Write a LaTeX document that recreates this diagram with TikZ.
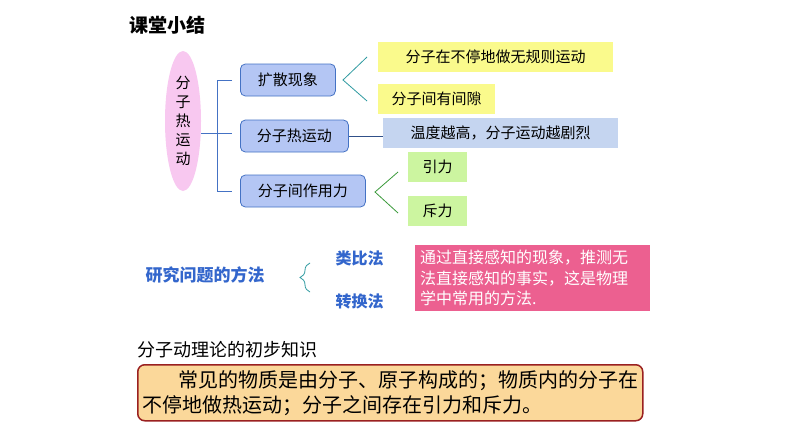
\documentclass[tikz,border=0pt]{standalone}
\usepackage{fontspec}
\setmainfont{Noto Sans CJK SC}
\usetikzlibrary{shapes.geometric,decorations.pathreplacing}
\definecolor{bbox}{HTML}{B4C6F4}
\definecolor{bline}{HTML}{4472C4}
\definecolor{ybox}{HTML}{FAFA8C}
\definecolor{gbox}{HTML}{CCF5A0}
\definecolor{lbox}{HTML}{C5D5F0}
\definecolor{teal}{HTML}{2E9AA0}
\definecolor{grn}{HTML}{3A9A3A}
\definecolor{pinkb}{HTML}{EC6090}
\definecolor{ell}{HTML}{F8C8F0}
\definecolor{blu}{HTML}{3366CC}
\definecolor{obox}{HTML}{FBD89A}
\definecolor{dred}{HTML}{9A2020}
\begin{document}
\begin{tikzpicture}[x=1pt,y=-1pt,
  cat/.style={draw=bline,fill=bbox,rounded corners=5pt,line width=0.8pt,minimum height=32pt,font=\fontsize{15}{17}\selectfont,inner sep=0pt},
  leaf/.style={minimum height=30pt,font=\fontsize{15}{17}\selectfont,inner sep=0pt,anchor=west}]
\useasboundingbox[fill=white] (0,0) rectangle (794,447);
\node[font=\fontsize{19}{21}\selectfont\bfseries,anchor=west] (title) at (126,25) {课堂小结};
\node[ellipse,fill=ell,minimum width=36pt,minimum height=140pt,inner sep=0pt,align=center,font=\fontsize{15}{19}\selectfont] (root) at (183,121) {分\\子\\热\\运\\动};
\node[cat,minimum width=95pt,anchor=west] (a) at (240,80) {扩散现象};
\node[cat,minimum width=108pt,anchor=west] (b) at (240,136) {分子热运动};
\node[cat,minimum width=125pt,anchor=west] (c) at (240,191) {分子间作用力};
\coordinate (bt) at (217,80); \coordinate (bb) at (217,191); \coordinate (bm) at (217,133);
\draw[bline,line width=1pt] (232,80) -- (bt) -- (bb) -- (232,191);
\draw[bline,line width=1pt] (root.east |- bm) -- (232,133);
\node[leaf,fill=ybox,minimum width=235pt] (a1) at (378,57) {分子在不停地做无规则运动};
\node[leaf,fill=ybox,minimum width=117pt] (a2) at (378,99) {分子间有间隙};
\coordinate (ta1) at (367,57); \coordinate (ta2) at (367,101); \coordinate (tv) at (343,80);
\draw[teal,line width=0.8pt] (ta1) -- (tv) -- (ta2);
\node[leaf,fill=lbox,minimum width=235pt] (b1) at (383,133) {温度越高，分子运动越剧烈};
\draw[bline!70!black,line width=1pt] (b.east) -- (b1.west |- b.east);
\node[leaf,fill=gbox,minimum width=59pt] (c1) at (408,167) {引力};
\node[leaf,fill=gbox,minimum width=59pt] (c2) at (408,211) {斥力};
\coordinate (g1) at (398,172); \coordinate (g2) at (398,213); \coordinate (gv) at (375,192);
\draw[grn,line width=0.8pt] (g1) -- (gv) -- (g2);
\node[anchor=west,text=blu,font=\fontsize{17}{19}\selectfont\bfseries] (m) at (142,275) {研究问题的方法};
\coordinate (br1) at (310,263); \coordinate (br2) at (310,292);
\draw[teal,line width=0.8pt,decorate,decoration={brace,amplitude=10pt,mirror,aspect=0.5}] (br1) -- (br2);
\node[anchor=west,text=blu,font=\fontsize{16}{18}\selectfont\bfseries] (m1) at (332,258) {类比法};
\node[anchor=west,text=blu,font=\fontsize{16}{18}\selectfont\bfseries] (m2) at (332,301) {转换法};
\node[anchor=north west,fill=pinkb,text=white,minimum width=235pt,minimum height=65pt,inner sep=5pt,align=left,text width=225pt,font=\fontsize{16}{20.5}\selectfont] (p) at (415,245) {通过直接感知的现象，推测无\\法直接感知的事实，这是物理\\学中常用的方法.};
\node[anchor=west,font=\fontsize{18}{20}\selectfont] (k) at (134,350) {分子动理论的初步知识};
\node[anchor=north west,draw=dred,line width=1.5pt,fill=obox,rounded corners=7pt,minimum width=505pt,minimum height=56pt,text width=495pt,inner sep=5pt,align=left,font=\fontsize{20}{25}\selectfont] (o) at (137,364) {\hspace*{36pt}常见的物质是由分子、原子构成的；物质内的分子在\\不停地做热运动；分子之间存在引力和斥力。};
\end{tikzpicture}
\end{document}
